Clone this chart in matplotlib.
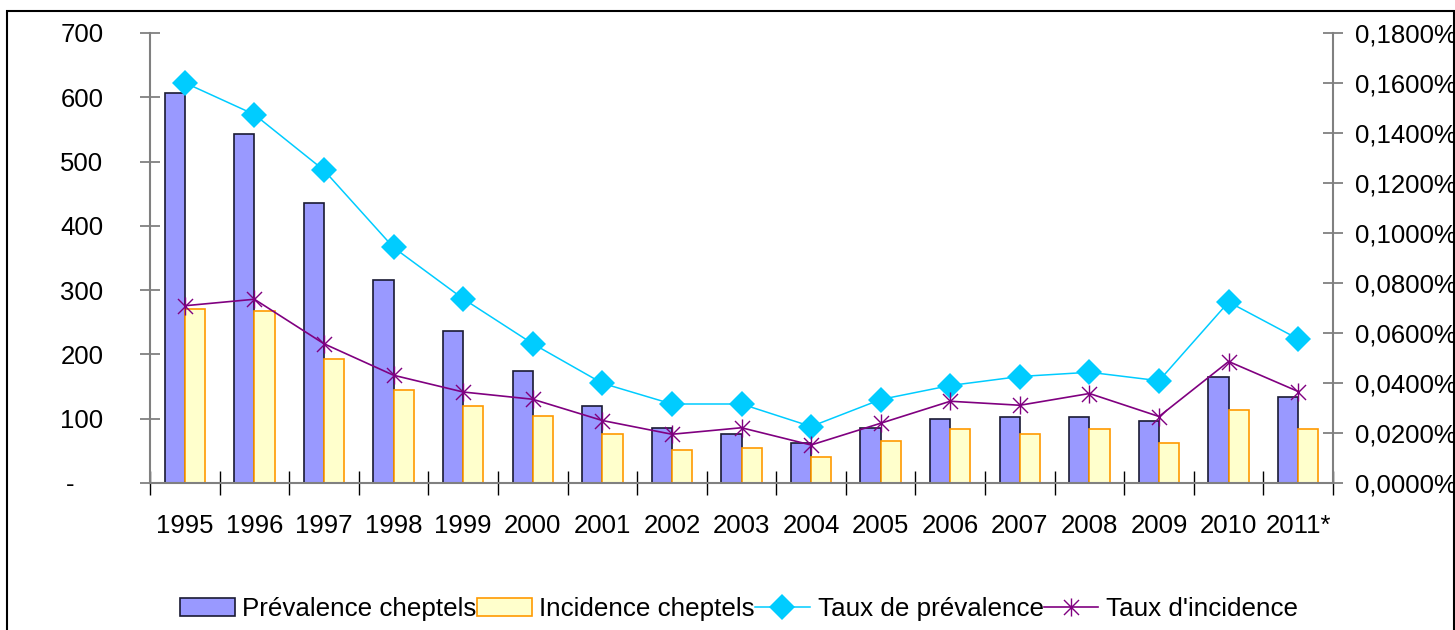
import matplotlib
matplotlib.use("Agg")
import matplotlib.pyplot as plt
import numpy as np
from matplotlib.patches import Rectangle
from matplotlib.path import Path
from matplotlib.ticker import FuncFormatter, MultipleLocator

years = ["1995", "1996", "1997", "1998", "1999", "2000", "2001", "2002", "2003",
         "2004", "2005", "2006", "2007", "2008", "2009", "2010", "2011*"]
prevalence_cheptels = [607, 543, 436, 316, 237, 175, 120, 86, 76, 62, 86, 100, 103, 103, 96, 165, 134]
incidence_cheptels = [271, 267, 193, 144, 120, 104, 76, 52, 55, 41, 65, 84, 76, 84, 62, 113, 84]
# rates in percent
taux_prevalence = [0.1601, 0.1474, 0.1251, 0.0942, 0.0737, 0.0557, 0.0399, 0.0316, 0.0316,
                   0.0226, 0.0334, 0.0390, 0.0426, 0.0443, 0.0409, 0.0724, 0.0576]
taux_incidence = [0.0709, 0.0735, 0.0557, 0.0431, 0.0364, 0.0335, 0.0250, 0.0195, 0.0221,
                  0.0152, 0.0239, 0.0327, 0.0311, 0.0358, 0.0266, 0.0486, 0.0366]

plt.rcParams["font.family"] = ["Liberation Sans", "DejaVu Sans"]
FS = 18.5
GREY = "#808080"

# Excel-style star: X plus vertical bar
star = Path([(-1, -1), (1, 1), (-1, 1), (1, -1), (0, -1.2), (0, 1.2)],
            [Path.MOVETO, Path.LINETO, Path.MOVETO, Path.LINETO, Path.MOVETO, Path.LINETO])

fig = plt.figure(figsize=(14.55, 6.3), dpi=100)
ax = fig.add_axes([150 / 1455, 147 / 630, 1183 / 1455, 450 / 630])
ax2 = ax.twinx()

x = np.arange(len(years))
w = 0.29
b1 = ax.bar(x - w / 2, prevalence_cheptels, w, color="#9999FF", edgecolor="#1a1a33",
            linewidth=1.2, label="Prévalence cheptels", zorder=2)
b2 = ax.bar(x + w / 2, incidence_cheptels, w, color="#FFFFCC", edgecolor="#FF9900",
            linewidth=1.2, label="Incidence cheptels", zorder=2)
l1, = ax2.plot(x, taux_prevalence, color="#00CCFF", lw=1.1, marker="D", markersize=13,
               markeredgewidth=0, label="Taux de prévalence")
l2, = ax2.plot(x, taux_incidence, color="#800080", lw=1.2, marker=star, markersize=13,
               markerfacecolor="none", markeredgecolor="#800080", markeredgewidth=1.0,
               label="Taux d'incidence")

ax.set_xlim(-0.5, len(years) - 0.5)
ax.set_ylim(0, 700)
ax2.set_ylim(0, 0.18)
ax.yaxis.set_major_locator(MultipleLocator(100))
ax2.yaxis.set_major_locator(MultipleLocator(0.02))
ax.yaxis.set_major_formatter(FuncFormatter(lambda v, p: "-    " if v == 0 else f"{v:.0f}"))
ax2.yaxis.set_major_formatter(FuncFormatter(lambda v, p: f"{v:.4f}%".replace(".", ",")))

ax.set_xticks(x)
ax.set_xticklabels(years)
ax.set_xticks(np.arange(-0.5, len(years)), minor=True)
ax.tick_params(axis="x", which="major", length=0, pad=22, labelsize=FS)
ax.tick_params(axis="x", which="minor", length=17, direction="inout", color="black", width=1)
ax.tick_params(axis="y", length=15, direction="inout", color=GREY, width=1.3, pad=26, labelsize=FS)
ax2.tick_params(axis="y", length=15, direction="inout", color=GREY, width=1.3, pad=8, labelsize=FS)

for a in (ax, ax2):
    a.spines["top"].set_visible(False)
    for s in ("left", "right", "bottom"):
        a.spines[s].set_color(GREY)
        a.spines[s].set_linewidth(1.5)
ax.spines["right"].set_visible(False)
ax2.spines["left"].set_visible(False)
ax2.spines["bottom"].set_visible(False)

fig.legend([b1, b2, l1, l2],
           ["Prévalence cheptels", "Incidence cheptels", "Taux de prévalence", "Taux d'incidence"],
           loc="center", bbox_to_anchor=(739 / 1455, 21 / 630), ncol=4, frameon=False,
           fontsize=18.75, handlelength=2.1, handletextpad=0.3, columnspacing=0.0,
           borderaxespad=0, borderpad=0)

fig.add_artist(Rectangle((7 / 1455, -0.05), 1447 / 1455, 1.05 - 11 / 630,
                         transform=fig.transFigure, fill=False, edgecolor="black", lw=1.5))

fig.savefig("out.png", dpi=100)
